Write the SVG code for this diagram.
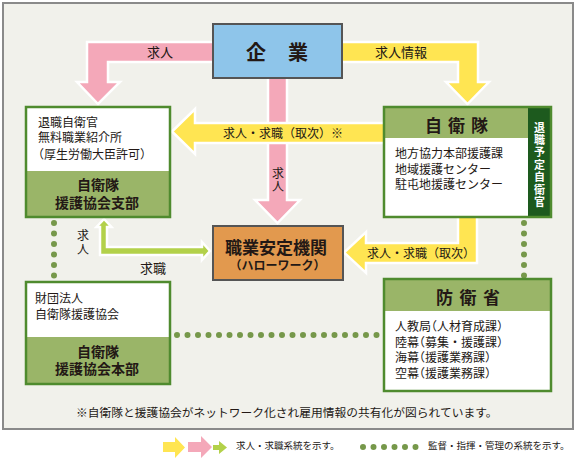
<svg xmlns="http://www.w3.org/2000/svg" width="576" height="461" viewBox="0 0 576 461">
<style>
text{font-family:"Noto Sans CJK JP","Noto Sans",sans-serif;fill:#231815}
.b{font-size:12px}
.lb{font-size:13px}
.hb{font-weight:bold}
.h{font-feature-settings:"halt"}
.vt{writing-mode:vertical-rl}
.v{font-size:11px;font-weight:bold;fill:#fff;letter-spacing:1.4px}
.arr{stroke:#fff;stroke-width:2.5;stroke-linejoin:miter}
.pink{fill:#f4a8b9}
.yel{fill:#ffe552}
.grn{fill:#b3d14a}
.gbox{fill:#9ab568}
.gstroke{fill:none;stroke:#4f8b2e;stroke-width:2.5}
.dots{stroke:#76984a;stroke-width:6;stroke-linecap:round;stroke-dasharray:0 10.5;fill:none}
.leg{font-size:9.5px}
</style>
<rect x="3" y="3" width="570" height="426" fill="#f1f1eb" stroke="#8a8a8a" stroke-width="2"/>

<g id="connectors">
  <polygon class="arr pink" points="216,42 87,42 87,82 77,82 98,104 120,82 108,82 108,62 216,62"/>
  <polygon class="arr pink" points="268,76 268,200 255,200 277.5,223 300,200 287,200 287,76"/>
  <polygon class="arr yel" points="340,42 478,42 478,82 489,82 467.5,104 446,82 458,82 458,62 340,62"/>
  <polygon class="arr yel" points="387,123 195,123 195,109 172,131.5 195,154 195,143 387,143"/>
  <polygon class="arr yel" points="458,215 458,243 366,243 366,232 344,252.5 366,273 366,263 477,263 477,215"/>
  <polygon class="arr grn" points="100,255 100,227 96.5,227 104,219 111.5,227 107,227 107,247 202,247 202,242 210,251 202,260 202,255"/>
  <path class="dots" d="M54,223 V276 M524,223 V276 M177,335 H378"/>
  <text class="lb" x="147" y="56.7">求人</text>
  <text class="lb" x="375" y="56.7">求人情報</text>
  <text class="b" x="223" y="137.5">求人・求職（取次）※</text>
  <text class="b vt" x="278" y="167" letter-spacing="1">求人</text>
  <text class="b" x="367" y="257.5">求人・求職（取次）</text>
  <text class="b vt" x="83" y="229" letter-spacing="2">求人</text>
  <text class="lb" x="140" y="272.5">求職</text>
</g>

<g id="kigyo">
  <rect x="213" y="24" width="129" height="54" fill="#8ec5ea" stroke="#555" stroke-width="2"/>
  <text x="246" y="59.5" font-size="20" font-weight="bold" letter-spacing="22">企業</text>
</g>

<g id="hellowork">
  <rect x="213" y="226" width="130" height="54" fill="#e2994e" stroke="#555" stroke-width="2"/>
  <text x="276" y="253.5" font-size="17" font-weight="bold" text-anchor="middle">職業安定機関</text>
  <text x="277.5" y="270" font-size="12" font-weight="bold" text-anchor="middle">（ハローワーク）</text>
</g>

<g id="engo-shibu">
  <rect x="26" y="107" width="144" height="64" fill="#fff"/>
  <rect x="26" y="171" width="144" height="46" class="gbox"/>
  <rect x="26" y="107" width="144" height="110" class="gstroke"/>
  <text class="b" x="38" y="126.5">退職自衛官</text>
  <text class="b" x="38" y="141.5">無料職業紹介所</text>
  <text class="b h" x="38" y="158.5">（厚生労働大臣許可）</text>
  <text class="hb" x="98" y="190.3" font-size="14" text-anchor="middle">自衛隊</text>
  <text class="hb" x="97" y="208.3" font-size="14" text-anchor="middle">援護協会支部</text>
</g>

<g id="jieitai">
  <rect x="384" y="107" width="167" height="110" fill="#fff"/>
  <rect x="384" y="107" width="144" height="31" class="gbox"/>
  <rect x="528" y="107" width="23" height="110" fill="#1d5a1e"/>
  <rect x="384" y="107" width="167" height="110" class="gstroke"/>
  <text x="425" y="131.5" font-size="17" font-weight="bold" letter-spacing="6">自衛隊</text>
  <text class="b" x="395" y="158">地方協力本部援護課</text>
  <text class="b" x="395" y="174">地域援護センター</text>
  <text class="b" x="395" y="189">駐屯地援護センター</text>
  <text class="v vt" x="539.5" y="122">退職予定自衛官</text>
</g>

<g id="engo-honbu">
  <rect x="26" y="282" width="144" height="55" fill="#fff"/>
  <rect x="26" y="337" width="144" height="47" class="gbox"/>
  <rect x="26" y="282" width="144" height="102" class="gstroke"/>
  <text class="b" x="35" y="302.5">財団法人</text>
  <text class="b" x="35" y="318.5">自衛隊援護協会</text>
  <text class="hb" x="98" y="357.3" font-size="14" text-anchor="middle">自衛隊</text>
  <text class="hb" x="97" y="374.3" font-size="14" text-anchor="middle">援護協会本部</text>
</g>

<g id="boeisho">
  <rect x="384" y="279" width="167" height="112" fill="#fff"/>
  <rect x="384" y="279" width="167" height="32" class="gbox"/>
  <rect x="384" y="279" width="167" height="112" class="gstroke"/>
  <text x="436" y="303.5" font-size="17" font-weight="bold" letter-spacing="6.5">防衛省</text>
  <text class="b" x="395" y="330.5">人教局<tspan class="h">（</tspan>人材育成課<tspan class="h">）</tspan></text>
  <text class="b" x="395" y="346.5">陸幕<tspan class="h">（</tspan>募集・援護課<tspan class="h">）</tspan></text>
  <text class="b" x="395" y="361.5">海幕<tspan class="h">（</tspan>援護業務課<tspan class="h">）</tspan></text>
  <text class="b" x="395" y="377.5">空幕<tspan class="h">（</tspan>援護業務課<tspan class="h">）</tspan></text>
</g>

<text x="76" y="417" font-size="11.75">※自衛隊と援護協会がネットワーク化され雇用情報の共有化が図られています。</text>

<g id="legend">
  <polygon class="yel" points="163,442 175,442 175,437 185,447.5 175,458 175,452 163,452"/>
  <polygon class="pink" points="188,442 201,442 201,436 212,447 201,458 201,452 188,452"/>
  <polygon class="grn" points="213,445 219,445 219,441 227,447.5 219,454 219,450 213,450"/>
  <text class="leg" x="236" y="448.5">求人・求職系統を示す。</text>
  <path class="dots" d="M363,447 H418" stroke-dasharray="0 10.8"/>
  <text class="leg" x="428" y="448.5">監督・指揮・管理の系統を示す。</text>
</g>
</svg>
